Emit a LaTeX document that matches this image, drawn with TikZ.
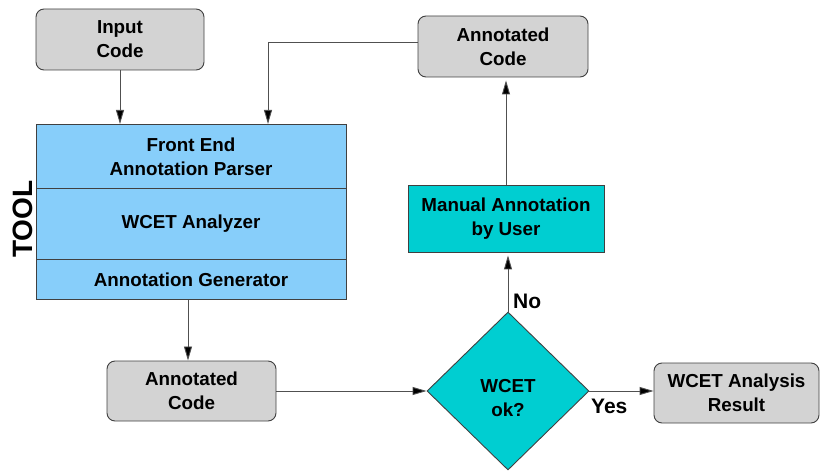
\documentclass[tikz,border=0pt]{standalone}
\usepackage{fontspec}
\setmainfont{Liberation Sans}
\usetikzlibrary{shapes.geometric,arrows.meta}
\definecolor{boxgray}{RGB}{211,211,211}
\definecolor{toolblue}{RGB}{135,206,250}
\definecolor{tealbox}{RGB}{0,206,209}
\definecolor{edgegray}{RGB}{64,64,64}
\definecolor{linegray}{RGB}{80,80,80}
\tikzset{
  txt/.style={font=\fontsize{18.8}{24}\selectfont\bfseries, align=center, text=black},
  graybox/.style={txt, draw=edgegray, fill=boxgray, rounded corners=8pt, line width=0.9pt, inner sep=0pt},
  toolpart/.style={txt, draw=edgegray, fill=toolblue, line width=0.9pt, inner sep=0pt, minimum width=310pt},
  tealrect/.style={txt, draw=edgegray, fill=tealbox, line width=0.9pt, inner sep=0pt},
  conn/.style={draw=linegray, line width=0.9pt, -{Triangle[length=14pt,width=8pt,fill=black]}},
  plain/.style={draw=linegray, line width=0.9pt},
  lbl/.style={font=\fontsize{21}{24}\selectfont\bfseries, text=black, inner sep=0pt}
}
\begin{document}
\begin{tikzpicture}[x=1pt,y=-1pt]
\useasboundingbox (0,0) rectangle (820,473);
% nodes
\node[graybox, minimum width=168pt, minimum height=61pt] (inp) at (120,39.5) {Input\\Code};
\node[graybox, minimum width=170pt, minimum height=61pt] (ann1) at (503,46.5) {Annotated\\Code};
\node[toolpart, minimum height=64pt, anchor=north] (fe) at (191,124) {Front End\\Annotation Parser};
\node[toolpart, minimum height=71pt, anchor=north] (wa) at (191,188) {WCET Analyzer};
\node[toolpart, minimum height=40pt, anchor=north] (ag) at (191,259) {Annotation Generator};
\node[font=\fontsize{28}{28}\selectfont\bfseries, rotate=90, inner sep=0pt] (toollbl) at (22.5,219) {TOOL};
\node[graybox, minimum width=169pt, minimum height=60pt] (ann2) at (191.5,391) {Annotated\\Code};
\node[tealrect, minimum width=196pt, minimum height=67pt] (man) at (506,218.5) {Manual Annotation\\by User};
\node[diamond, draw=edgegray, fill=tealbox, line width=0.9pt, inner sep=0pt, minimum width=162pt, minimum height=158pt] (dia) at (508,391) {};
\node[txt] (diatxt) at (508,398) {WCET\\ok?};
\node[graybox, minimum width=165pt, minimum height=60pt] (res) at (736.5,393) {WCET Analysis\\Result};
% connectors
\coordinate (fbk) at (268,42);
\draw[conn] (inp.south) -- (inp.south |- fe.north);
\draw[plain] (ann1.west |- fbk) -- (fbk);
\draw[conn] (fbk) -- (fbk |- fe.north);
\draw[conn, shorten >=3pt] (man.north -| 506,0) -- (ann1.south -| 506,0);
\draw[conn] (ag.south -| 188,0) -- (ann2.north -| 188,0);
\draw[conn] (ann2.east) -- (dia.west);
\draw[conn, shorten >=3pt] (dia.north) -- (man.south -| dia.north);
\draw[conn] (dia.east) -- (res.west |- dia.east);
\node[lbl, anchor=south west] (no) at (513,309) {No};
\node[lbl, anchor=north west] (yes) at (591,399) {Yes};
\end{tikzpicture}
\end{document}
